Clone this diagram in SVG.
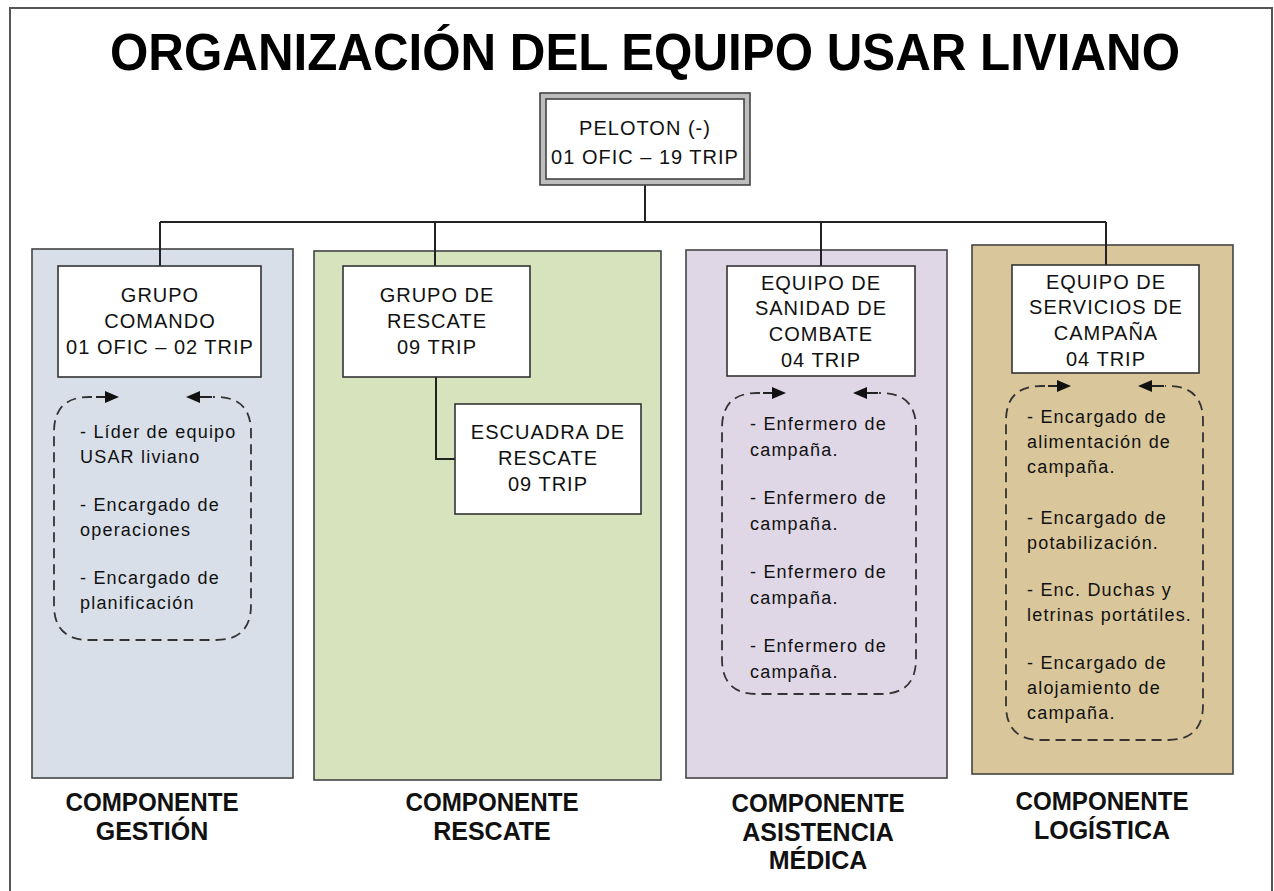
<svg xmlns="http://www.w3.org/2000/svg" width="1274" height="891" viewBox="0 0 1274 891">
<style>
.frame{fill:none;stroke:#555;stroke-width:2}
.panel{stroke:#444;stroke-width:1.6}
.node{fill:#fff;stroke:#333;stroke-width:1.6}
.nt{font-family:"Liberation Sans",Arial,sans-serif;font-size:20px;letter-spacing:1px;fill:#111;text-anchor:middle}
.lt{font-family:"Liberation Sans",Arial,sans-serif;font-size:18px;letter-spacing:1.2px;fill:#111}
.bl{font-family:"Liberation Sans",Arial,sans-serif;font-size:25px;font-weight:bold;fill:#111;text-anchor:middle}
.title{font-family:"Liberation Sans",Arial,sans-serif;font-size:52px;font-weight:bold;fill:#000;text-anchor:middle}
.conn{fill:none;stroke:#222;stroke-width:2}
.dash{fill:none;stroke:#333;stroke-width:1.8;stroke-dasharray:10 6}
.shaft{fill:none;stroke:#222;stroke-width:1.8}
.head{fill:#111}
</style>
<rect width="1274" height="891" fill="#fff"/>
<rect class="frame" x="10" y="8" width="1262" height="900"/>
<text class="title" x="645" y="70" textLength="1070" lengthAdjust="spacingAndGlyphs">ORGANIZACIÓN DEL EQUIPO USAR LIVIANO</text>

<g id="panels">
<rect class="panel" x="32" y="249" width="261" height="529" fill="#d8dfe9"/>
<rect class="panel" x="314" y="251" width="347" height="529" fill="#d7e3bd"/>
<rect class="panel" x="686" y="250" width="261" height="528" fill="#e0d7e6"/>
<rect class="panel" x="972" y="245" width="261" height="529" fill="#d9c69a"/>
</g>

<g id="connectors">
<path class="conn" d="M645,185 V222 M160,222 H1106 M160,222 V266 M435,222 V266 M821,222 V266 M1106,222 V265"/>
<path class="conn" d="M436,377 V459 H455"/>
<path class="dash" d="M92,397 H89 Q54,397 54,432 V605 Q54,640 89,640 H216 Q251,640 251,605 V432 Q251,397 216,397 H213"/>
<path class="shaft" d="M96,397 H108 M197,397 H212"/>
<polygon class="head" points="119,397 105,391 105,403"/>
<polygon class="head" points="186,397 200,391 200,403"/>
<path class="dash" d="M760,393 H757 Q722,393 722,428 V659 Q722,694 757,694 H881 Q916,694 916,659 V428 Q916,393 881,393 H879"/>
<path class="shaft" d="M763,393 H775 M864,393 H878"/>
<polygon class="head" points="786,393 772,387 772,399"/>
<polygon class="head" points="853,393 867,387 867,399"/>
<path class="dash" d="M1045,386 H1041 Q1006,386 1006,421 V705 Q1006,740 1041,740 H1168 Q1203,740 1203,705 V421 Q1203,386 1168,386 H1165"/>
<path class="shaft" d="M1048,386 H1060 M1149,386 H1164"/>
<polygon class="head" points="1071,386 1057,380 1057,392"/>
<polygon class="head" points="1138,386 1152,380 1152,392"/>
</g>

<g id="peloton">
<rect x="540" y="93" width="210" height="92" fill="#bdbdbd" stroke="#444" stroke-width="1.6"/>
<rect x="546" y="99" width="198" height="80" fill="#fff" stroke="#444" stroke-width="1.6"/>
<text class="nt" x="645" y="135">PELOTON (-)</text>
<text class="nt" x="645" y="164">01 OFIC – 19 TRIP</text>
</g>

<g id="grupo-comando">
<rect class="node" x="58" y="266" width="203" height="111"/>
<text class="nt" x="160" y="302">GRUPO</text>
<text class="nt" x="160" y="328">COMANDO</text>
<text class="nt" x="160" y="354">01 OFIC – 02 TRIP</text>
</g>

<g id="grupo-rescate">
<rect class="node" x="343" y="266" width="187" height="111"/>
<text class="nt" x="437" y="302">GRUPO DE</text>
<text class="nt" x="437" y="328">RESCATE</text>
<text class="nt" x="437" y="354">09 TRIP</text>
</g>

<g id="escuadra-rescate">
<rect class="node" x="455" y="404" width="186" height="110"/>
<text class="nt" x="548" y="439">ESCUADRA DE</text>
<text class="nt" x="548" y="465">RESCATE</text>
<text class="nt" x="548" y="491">09 TRIP</text>
</g>

<g id="equipo-sanidad">
<rect class="node" x="727" y="266" width="188" height="110"/>
<text class="nt" x="821" y="290">EQUIPO DE</text>
<text class="nt" x="821" y="315">SANIDAD DE</text>
<text class="nt" x="821" y="341">COMBATE</text>
<text class="nt" x="821" y="367">04 TRIP</text>
</g>

<g id="equipo-servicios">
<rect class="node" x="1012" y="265" width="187" height="108"/>
<text class="nt" x="1106" y="289">EQUIPO DE</text>
<text class="nt" x="1106" y="314">SERVICIOS DE</text>
<text class="nt" x="1106" y="340">CAMPAÑA</text>
<text class="nt" x="1106" y="366">04 TRIP</text>
</g>

<g id="lista-gestion">
<text class="lt" x="80" y="438">- Líder de equipo</text>
<text class="lt" x="80" y="463">USAR liviano</text>
<text class="lt" x="80" y="511">- Encargado de</text>
<text class="lt" x="80" y="536">operaciones</text>
<text class="lt" x="80" y="584">- Encargado de</text>
<text class="lt" x="80" y="609">planificación</text>
</g>

<g id="lista-sanidad">
<text class="lt" x="750" y="430">- Enfermero de</text>
<text class="lt" x="750" y="456">campaña.</text>
<text class="lt" x="750" y="504">- Enfermero de</text>
<text class="lt" x="750" y="530">campaña.</text>
<text class="lt" x="750" y="578">- Enfermero de</text>
<text class="lt" x="750" y="604">campaña.</text>
<text class="lt" x="750" y="652">- Enfermero de</text>
<text class="lt" x="750" y="678">campaña.</text>
</g>

<g id="lista-servicios">
<text class="lt" x="1027" y="423">- Encargado de</text>
<text class="lt" x="1027" y="448">alimentación de</text>
<text class="lt" x="1027" y="473">campaña.</text>
<text class="lt" x="1027" y="524">- Encargado de</text>
<text class="lt" x="1027" y="549">potabilización.</text>
<text class="lt" x="1027" y="596">- Enc. Duchas y</text>
<text class="lt" x="1027" y="621">letrinas portátiles.</text>
<text class="lt" x="1027" y="669">- Encargado de</text>
<text class="lt" x="1027" y="694">alojamiento de</text>
<text class="lt" x="1027" y="719">campaña.</text>
</g>

<g id="etiquetas">
<text class="bl" x="152" y="811" textLength="173" lengthAdjust="spacingAndGlyphs">COMPONENTE</text>
<text class="bl" x="152" y="840">GESTIÓN</text>
<text class="bl" x="492" y="811" textLength="173" lengthAdjust="spacingAndGlyphs">COMPONENTE</text>
<text class="bl" x="492" y="840">RESCATE</text>
<text class="bl" x="818" y="812" textLength="173" lengthAdjust="spacingAndGlyphs">COMPONENTE</text>
<text class="bl" x="818" y="841">ASISTENCIA</text>
<text class="bl" x="818" y="869">MÉDICA</text>
<text class="bl" x="1102" y="810" textLength="173" lengthAdjust="spacingAndGlyphs">COMPONENTE</text>
<text class="bl" x="1102" y="839">LOGÍSTICA</text>
</g>
</svg>
